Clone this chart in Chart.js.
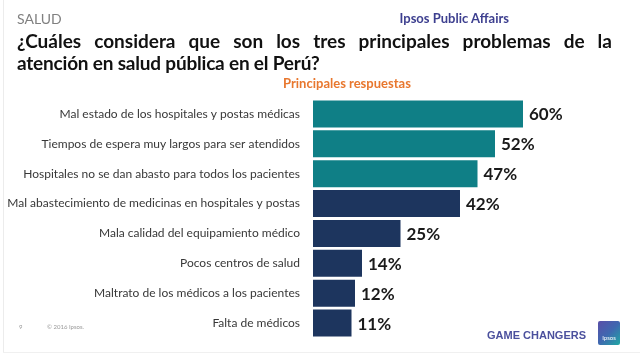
<!DOCTYPE html>
<html>
<head>
<meta charset="utf-8">
<script src="https://cdn.jsdelivr.net/npm/chart.js@4/dist/chart.umd.min.js"></script>
<style>
  html, body { margin: 0; padding: 0; background: #fff; }
  #wrap { position: relative; width: 640px; height: 360px; overflow: hidden; background: #fff; font-family: Lato, "Open Sans", sans-serif; }
  #edge { position: absolute; left: 3px; top: 0; width: 1px; height: 352px; background: #ececec; }
  #edgeb { position: absolute; left: 3px; top: 352px; width: 637px; height: 1px; background: #f0f0f0; }
  canvas { position: absolute; left: 0; top: 0; }
  .t { position: absolute; white-space: nowrap; }
  #salud { left: 17px; top: 10px; font-size: 14px; color: #808080; }
  #ipa { right: 131px; top: 10px; font-size: 13px; font-weight: bold; color: #3d3f8f; }
  #l1 { left: 17px; top: 29px; width: 595px; display: flex; justify-content: space-between; font-size: 19px; font-weight: bold; color: #111; }
  #l2 { left: 17px; top: 51px; font-size: 19px; font-weight: bold; color: #111; letter-spacing: -0.2px; }
  #sub { left: 283px; top: 75px; font-size: 13px; font-weight: bold; color: #e8772e; }
  #pg { left: 19px; top: 323px; font-size: 6px; color: #999; }
  #cp { left: 47px; top: 323px; font-size: 6px; color: #999; }
  #gc { left: 487px; top: 329px; font-family: "Liberation Sans", Arial, sans-serif; font-size: 11px; font-weight: bold; color: #4b509d; }
  #logo { position: absolute; left: 598px; top: 321px; width: 22px; height: 24px; background: linear-gradient(135deg, #5a4fa8 0%, #3f68b0 50%, #1fa8a4 100%); border-radius: 2px; color: #fff; font-size: 6px; text-align: center; line-height: 8px; }
</style>
</head>
<body>
<div id="wrap">
  <div id="edge"></div>
  <div id="edgeb"></div>
  <canvas id="c" width="640" height="360"></canvas>
  <div class="t" id="salud">SALUD</div>
  <div class="t" id="ipa">Ipsos Public Affairs</div>
  <div class="t" id="l1"><span>¿Cuáles</span><span>considera</span><span>que</span><span>son</span><span>los</span><span>tres</span><span>principales</span><span>problemas</span><span>de</span><span>la</span></div>
  <div class="t" id="l2">atención en salud pública en el Perú?</div>
  <div class="t" id="sub">Principales respuestas</div>
  <div class="t" id="pg">9</div>
  <div class="t" id="cp">© 2016 Ipsos.</div>
  <div class="t" id="gc">GAME CHANGERS</div>
  <div id="logo"><div style="height:13px"></div>Ipsos</div>
</div>
<script>
const categories = [
  "Mal estado de los hospitales y postas médicas",
  "Tiempos de espera muy largos para ser atendidos",
  "Hospitales no se dan abasto para todos los pacientes",
  "Mal abastecimiento de medicinas en hospitales y postas",
  "Mala calidad del equipamiento médico",
  "Pocos centros de salud",
  "Maltrato de los médicos a los pacientes",
  "Falta de médicos"
];
const values = [60, 52, 47, 42, 25, 14, 12, 11];
const barColors = ["#0f7f86", "#0f7f86", "#0f7f86", "#1d355e", "#1d355e", "#1d355e", "#1d355e", "#1d355e"];

const valueLabels = {
  id: "valueLabels",
  afterDatasetsDraw(chart) {
    const ctx = chart.ctx;
    const meta = chart.getDatasetMeta(0);
    ctx.save();
    ctx.font = "bold 17px Lato, sans-serif";
    ctx.fillStyle = "#1a1a1a";
    ctx.textAlign = "left";
    ctx.textBaseline = "middle";
    meta.data.forEach((bar, i) => {
      ctx.fillText(values[i] + "%", bar.x + 6, bar.y + 1);
    });
    ctx.restore();
  }
};

new Chart(document.getElementById("c"), {
  type: "bar",
  data: {
    labels: categories,
    datasets: [{
      data: values,
      backgroundColor: barColors,
      borderWidth: 0,
      barPercentage: 0.9,
      categoryPercentage: 1.0
    }]
  },
  options: {
    indexAxis: "y",
    responsive: false,
    animation: false,
    layout: { padding: { top: 99, bottom: 22, left: 0, right: 47 } },
    plugins: { legend: { display: false }, tooltip: { enabled: false } },
    scales: {
      x: {
        display: false,
        min: 0,
        max: 80
      },
      y: {
        grid: { display: false, drawTicks: false },
        border: { display: false },
        ticks: {
          padding: 13,
          color: "#383838",
          font: { family: "Lato, sans-serif", size: 12 }
        },
        afterFit(scale) { scale.width = 313; }
      }
    }
  },
  plugins: [valueLabels]
});
</script>
</body>
</html>
